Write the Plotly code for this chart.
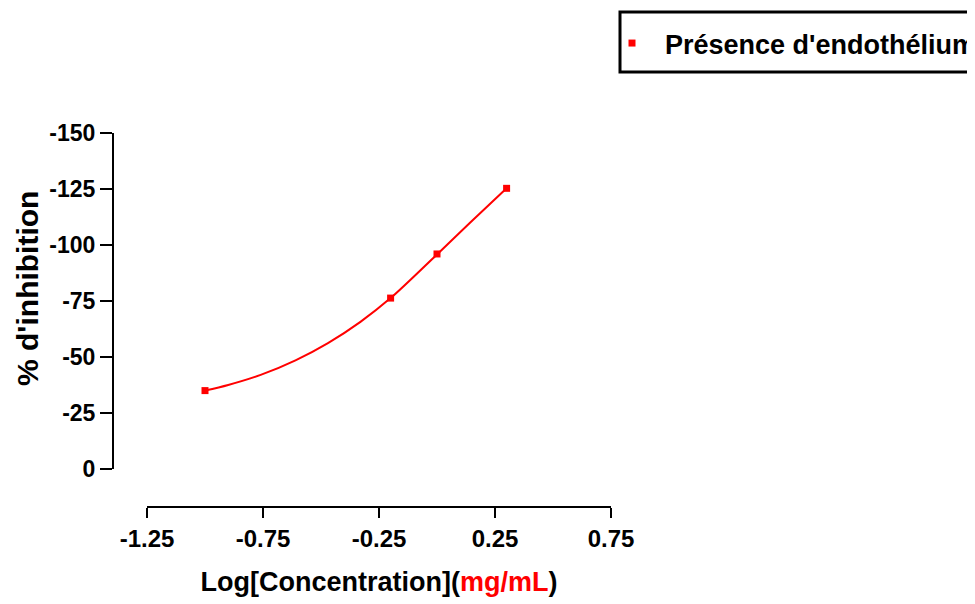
import plotly.graph_objects as go

# Measured data points
log_conc = [-1.0, -0.2, 0.0, 0.3]
inhibition = [-35.0, -76.3, -96.0, -125.3]
series_name = "Présence d'endothélium"

# Fitted curve at several positions
fit_x = [-1.0, -0.9, -0.76, -0.61, -0.47, -0.33, -0.2, 0.0, 0.14, 0.3]
fit_y = [-35.0, -37.5, -42.0, -48.5, -56.2, -65.7, -76.3, -95.8, -109.7, -125.3]

x_tickvals = [-1.25, -0.75, -0.25, 0.25, 0.75]
x_ticktext = ["-1.25", "-0.75", "-0.25", "0.25", "0.75"]
y_tickvals = [0, -25, -50, -75, -100, -125, -150]
y_ticktext = ["0", "-25", "-50", "-75", "-100", "-125", "-150"]

FONT = "Liberation Sans, Arial, sans-serif"
RED = "#ff0000"

fig = go.Figure()
fig.add_trace(go.Scatter(
    x=fit_x, y=fit_y, mode="lines",
    line=dict(color=RED, width=2, shape="spline", smoothing=0.9),
    showlegend=False, hoverinfo="skip"))
fig.add_trace(go.Scatter(
    x=log_conc, y=inhibition, mode="markers", name=series_name,
    marker=dict(color=RED, symbol="square", size=7)))

W, H = 975, 604
OFF = 8  # page body margin
# desired screen positions
y_axis_x = 113
x_axis_y = 507
top_y = 133
right_x = 611
ml = y_axis_x - OFF
mt = top_y - OFF
mr = W - (right_x - OFF)
mb = H - (x_axis_y - OFF)
pw, ph = W - ml - mr, H - mt - mb


def px(sx):
    return (sx - OFF - ml) / pw


def py(sy):
    return (H - mb - (sy - OFF)) / ph


fig.update_layout(
    width=W, height=H,
    margin=dict(l=ml, r=mr, t=mt, b=mb, autoexpand=False),
    paper_bgcolor="white", plot_bgcolor="white",
    font=dict(family=FONT, color="black", weight="bold"),
    xaxis=dict(
        domain=[px(147), 1], range=[-1.25, 0.75],
        anchor="free", position=0,
        showgrid=False, zeroline=False,
        showline=True, linecolor="black", linewidth=2,
        ticks="outside", ticklen=10, tickwidth=2, tickcolor="black",
        tickvals=x_tickvals, ticktext=x_ticktext,
        tickfont=dict(size=24, family=FONT, weight="bold"),
        title=dict(
            text="Log[Concentration](<span style='color:#ff0000'>mg/mL</span>)",
            font=dict(size=27, family=FONT, weight="bold"), standoff=20),
    ),
    yaxis=dict(
        domain=[py(469), 1], range=[0, -150],
        anchor="free", position=0,
        showgrid=False, zeroline=False,
        showline=True, linecolor="black", linewidth=2,
        ticks="outside", ticklen=12, tickwidth=2, tickcolor="black",
        tickvals=y_tickvals, ticktext=y_ticktext,
        tickfont=dict(size=23, family=FONT, weight="bold"),
    ),
    annotations=[dict(
        text="% d'inhibition", xref="paper", yref="paper",
        x=px(27), y=py(289), xanchor="center", yanchor="middle",
        textangle=-90, showarrow=False,
        font=dict(size=30, family=FONT, weight="bold", color="black"))],
    legend=dict(
        x=px(599), y=py(19), xanchor="left", yanchor="top",
        bgcolor="rgba(0,0,0,0)", borderwidth=0, itemwidth=56,
        font=dict(size=27, family=FONT, weight="bold", color="black"),
    ),
    shapes=[dict(type="rect", xref="paper", yref="paper",
                 x0=px(620), x1=px(1000),
                 y0=py(72), y1=py(12),
                 line=dict(color="black", width=3), fillcolor="rgba(0,0,0,0)")],
)

fig.write_html("out.html")
